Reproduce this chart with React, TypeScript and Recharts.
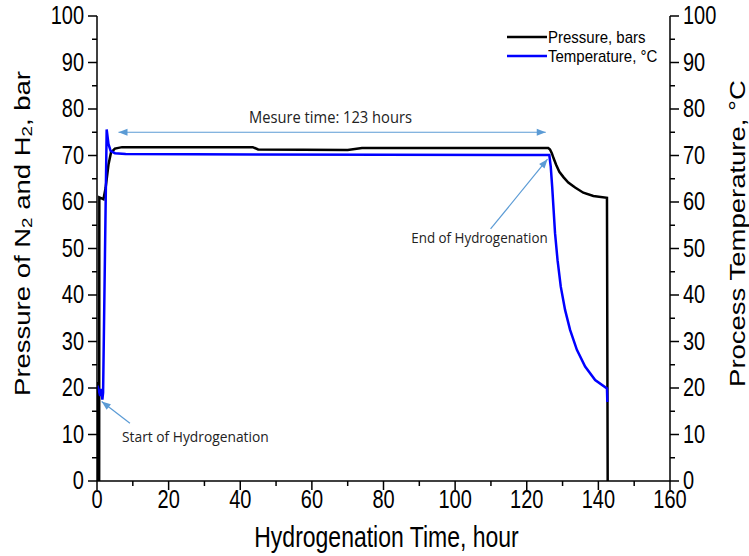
import React from "react";
import {
  ComposedChart,
  Legend,
  Line,
  ReferenceDot,
  ReferenceLine,
  XAxis,
  YAxis,
} from "recharts";

// pressure trace (left axis)
const pressureHours = [
  0.1, 0.15, 0.45, 0.5, 0.6, 0.65, 1.8, 2.4, 3.2, 3.9, 5, 7, 43.5, 45, 70, 74,
  126, 126.5, 127.0, 127.5, 128.2, 129.1, 130.3, 131.6, 133.5, 135.8, 138.6,
  142.4, 142.6,
];
const pressureBar = [
  0, 21, 21, 0, 0, 61, 60.6, 63, 68, 70.6, 71.5, 71.8, 71.8, 71.3, 71.2, 71.6,
  71.6, 71.3, 70.5, 69.4, 68.0, 66.5, 65.3, 64.2, 63.1, 62.0, 61.3, 60.9, 0,
];

// temperature trace (right axis)
const tempHours = [
  0.1, 0.5, 0.9, 1.2, 1.5, 1.7, 2.7, 3.2, 3.8, 5, 8, 126.3, 126.7, 127.1,
  127.5, 127.9, 128.6, 129.5, 130.7, 132.1, 134.0, 136.3, 139.1, 142.4, 142.5,
];
const tempCelsius = [
  20.5, 19.5, 18.3, 19.8, 17.5, 19, 75.6, 72.5, 71.0, 70.5, 70.3, 70.1, 67.6,
  63.3, 58.3, 53.3, 47.5, 41.8, 36.8, 32.5, 28.2, 24.6, 21.7, 19.9, 17,
];

const xTicks = [
  0, 10, 20, 30, 40, 50, 60, 70, 80, 90, 100, 110, 120, 130, 140, 150, 160,
];
const yTicks = [
  0, 5, 10, 15, 20, 25, 30, 35, 40, 45, 50, 55, 60, 65, 70, 75, 80, 85, 90, 95,
  100,
];

const pressureData = pressureHours.map((t, i) => ({ t, p: pressureBar[i] }));
const tempData = tempHours.map((t, i) => ({ t, c: tempCelsius[i] }));

const STRETCH = 1.25;
const FONT = '"Liberation Sans", Arial, sans-serif';
const NOTE_FONT = '"Open Sans", "Noto Sans", sans-serif';
const ARROW = "#5b9bd5";

type STextProps = {
  x: number;
  y: number;
  size: number;
  anchor?: "start" | "middle" | "end";
  rotate?: boolean;
  font?: string;
  fill?: string;
  stretch?: number;
  children: React.ReactNode;
};

const SText = ({
  x,
  y,
  size,
  anchor = "middle",
  rotate = false,
  font = FONT,
  fill = "#000",
  stretch = STRETCH,
  children,
}: STextProps) => (
  <text
    transform={
      rotate
        ? `translate(${x},${y}) rotate(-90) scale(${stretch},1)`
        : `translate(${x},${y}) scale(1,${stretch})`
    }
    fontSize={size}
    fontFamily={font}
    textAnchor={anchor}
    dominantBaseline="central"
    fill={fill}
  >
    {children}
  </text>
);

const BottomTick = ({ x, y, payload }: any) => {
  const major = payload.value % 20 === 0;
  return (
    <g>
      <line x1={x} y1={y} x2={x} y2={y + (major ? 9 : 5)} stroke="#000" strokeWidth={1.5} />
      {major && (
        <SText x={x} y={y + 19} size={20}>
          {payload.value}
        </SText>
      )}
    </g>
  );
};

const TopTick = ({ x, y, payload }: any) => {
  const major = payload.value % 20 === 0;
  return <line x1={x} y1={y} x2={x} y2={y + (major ? 9 : 5)} stroke="#000" strokeWidth={1.5} />;
};

const LeftTick = ({ x, y, payload }: any) => {
  const major = payload.value % 10 === 0;
  return (
    <g>
      <line x1={x} y1={y} x2={x - (major ? 9 : 5)} y2={y} stroke="#000" strokeWidth={1.5} />
      {major && (
        <SText x={x - 13} y={y} size={20} anchor="end">
          {payload.value}
        </SText>
      )}
    </g>
  );
};

const RightTick = ({ x, y, payload }: any) => {
  const major = payload.value % 10 === 0;
  return (
    <g>
      <line x1={x} y1={y} x2={x + (major ? 9 : 5)} y2={y} stroke="#000" strokeWidth={1.5} />
      {major && (
        <SText x={x + 13} y={y} size={20} anchor="start">
          {payload.value}
        </SText>
      )}
    </g>
  );
};

const bottomTitle = ({ viewBox }: any) => (
  <SText x={viewBox.x + viewBox.width / 2 + 3} y={viewBox.y + 56} size={23}>
    Hydrogenation Time, hour
  </SText>
);

const leftTitle = ({ viewBox }: any) => (
  <text
    transform={`translate(${viewBox.x + 22},${viewBox.y + viewBox.height / 2 - 15}) rotate(-90) scale(${STRETCH},1)`}
    fontSize={22}
    fontFamily={FONT}
    textAnchor="middle"
    dominantBaseline="central"
  >
    Pressure of N<tspan fontSize={15} dy={5}>2</tspan>
    <tspan dy={-5}> and H</tspan>
    <tspan fontSize={15} dy={5}>2</tspan>
    <tspan dy={-5}>, bar</tspan>
  </text>
);

const rightTitle = ({ viewBox }: any) => (
  <SText x={viewBox.x + 67} y={viewBox.y + viewBox.height / 2 - 15} size={22} rotate>
    Process Temperature, °C
  </SText>
);

const head = (x: number, y: number, fx: number, fy: number) => {
  const a = Math.atan2(y - fy, x - fx);
  const len = 9;
  const w = 3.5;
  const bx = x - len * Math.cos(a);
  const by = y - len * Math.sin(a);
  const px = -Math.sin(a) * w;
  const py = Math.cos(a) * w;
  return `${x},${y} ${bx + px},${by + py} ${bx - px},${by - py}`;
};

const arrowShape = (both: boolean) => (props: any) => {
  const { x1, y1, x2, y2 } = props;
  return (
    <g>
      <line x1={x1} y1={y1} x2={x2} y2={y2} stroke={ARROW} strokeWidth={1.2} />
      <polygon points={head(x2, y2, x1, y1)} fill={ARROW} />
      {both && <polygon points={head(x1, y1, x2, y2)} fill={ARROW} />}
    </g>
  );
};

const noteShape =
  (text: string, size: number, anchor: "start" | "middle" = "middle") =>
  (props: any) => (
    <SText x={props.cx} y={props.cy} size={size} anchor={anchor} font={NOTE_FONT} fill="#222" stretch={1.05}>
      {text}
    </SText>
  );

const LegendBox = ({ payload }: any) => (
  <div style={{ fontFamily: FONT, fontSize: 15, color: "#000" }}>
    {(payload ?? []).map((e: any) => (
      <div key={e.value} style={{ display: "flex", alignItems: "center", height: 19 }}>
        <svg width={40} height={4} style={{ marginRight: 1 }}>
          <line x1={0} y1={2} x2={40} y2={2} stroke={e.color} strokeWidth={2.5} />
        </svg>
        <span style={{ display: "inline-block", transform: "scaleY(1.12)", lineHeight: "17px" }}>
          {e.value}
        </span>
      </div>
    ))}
  </div>
);

export default function App() {
  return (
    <div style={{ position: "absolute", left: 0, top: 0, width: 749, height: 556, background: "#fff" }}>
      <ComposedChart width={749} height={556} margin={{ top: 16, right: 0, bottom: 0, left: 0 }}>
        <XAxis
          xAxisId="x"
          dataKey="t"
          type="number"
          domain={[0, 160]}
          allowDataOverflow
          ticks={xTicks}
          interval={0}
          tickSize={0}
          tickMargin={0}
          tickLine={false}
          tick={BottomTick}
          height={75}
          axisLine={{ stroke: "#000", strokeWidth: 1.5 }}
          label={bottomTitle}
        />
        <XAxis
          xAxisId="top"
          orientation="top"
          dataKey="t"
          type="number"
          domain={[0, 160]}
          allowDataOverflow
          ticks={xTicks}
          interval={0}
          tickSize={0}
          tickMargin={0}
          tickLine={false}
          tick={TopTick}
          height={0}
          axisLine={{ stroke: "#000", strokeWidth: 1.5 }}
        />
        <YAxis
          yAxisId="left"
          type="number"
          domain={[0, 100]}
          allowDataOverflow
          ticks={yTicks}
          interval={0}
          tickSize={0}
          tickMargin={0}
          tickLine={false}
          tick={LeftTick}
          width={97}
          axisLine={{ stroke: "#000", strokeWidth: 1.5 }}
          label={leftTitle}
        />
        <YAxis
          yAxisId="right"
          orientation="right"
          type="number"
          domain={[0, 100]}
          allowDataOverflow
          ticks={yTicks}
          interval={0}
          tickSize={0}
          tickMargin={0}
          tickLine={false}
          tick={RightTick}
          width={79}
          axisLine={{ stroke: "#000", strokeWidth: 1.5 }}
          label={rightTitle}
        />
        <Line
          xAxisId="x"
          yAxisId="left"
          data={pressureData}
          dataKey="p"
          name="Pressure, bars"
          type="linear"
          stroke="#000000"
          strokeWidth={2.5}
          dot={false}
          isAnimationActive={false}
        />
        <Line
          xAxisId="x"
          yAxisId="right"
          data={tempData}
          dataKey="c"
          name="Temperature, °C"
          type="linear"
          stroke="#0000ff"
          strokeWidth={2.5}
          dot={false}
          isAnimationActive={false}
        />
        <ReferenceLine
          xAxisId="x"
          yAxisId="left"
          segment={[
            { x: 6.0, y: 75.0 },
            { x: 125.3, y: 75.0 },
          ]}
          shape={arrowShape(true)}
        />
        <ReferenceLine
          xAxisId="x"
          yAxisId="left"
          segment={[
            { x: 109.9, y: 54.2 },
            { x: 125.8, y: 69.2 },
          ]}
          shape={arrowShape(false)}
        />
        <ReferenceLine
          xAxisId="x"
          yAxisId="left"
          segment={[
            { x: 9.2, y: 12.4 },
            { x: 1.3, y: 17.1 },
          ]}
          shape={arrowShape(false)}
        />
        <ReferenceDot xAxisId="x" yAxisId="left" x={65.2} y={78.3} r={0} shape={noteShape("Mesure time: 123 hours", 14.7)} />
        <ReferenceDot xAxisId="x" yAxisId="left" x={106.8} y={52.5} r={0} shape={noteShape("End of Hydrogenation", 13.4)} />
        <ReferenceDot xAxisId="x" yAxisId="left" x={7.0} y={9.5} r={0} shape={noteShape("Start of Hydrogenation", 13.8, "start")} />
        <Legend
          layout="vertical"
          align="center"
          verticalAlign="middle"
          content={<LegendBox />}
          wrapperStyle={{ left: 507, top: 27, width: 170, bottom: "auto", right: "auto" }}
        />
      </ComposedChart>
    </div>
  );
}
